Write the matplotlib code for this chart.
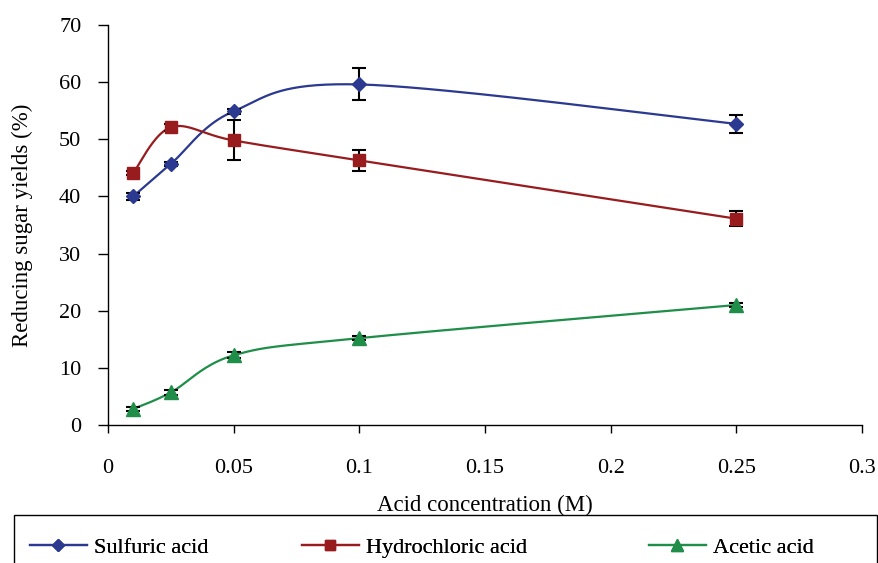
import numpy as np
import matplotlib
matplotlib.use("Agg")
import matplotlib.pyplot as plt
from matplotlib.patches import Rectangle

# Acid concentration (M)
conc = [0.01, 0.025, 0.05, 0.1, 0.25]

# Reducing sugar yields (%) and error bars
sulfuric = [40.0, 45.7, 54.9, 59.6, 52.7]
sulfuric_err = [0.6, 0.4, 0.4, 2.8, 1.6]
hydrochloric = [44.1, 52.1, 49.8, 46.3, 36.1]
hydrochloric_err = [0.3, 0.6, 3.5, 1.8, 1.3]
acetic = [2.8, 5.7, 12.2, 15.2, 21.0]
acetic_err = [0.4, 0.4, 0.5, 0.4, 0.4]

series_names = ["Sulfuric acid", "Hydrochloric acid", "Acetic acid"]
colours = ["#2B3990", "#981B1E", "#1E8E49"]
markers = ["D", "s", "^"]
msizes = [7, 9, 9.5]
# left edge of each legend entry, in figure pixels
legend_x = [30, 302, 649]


def smooth(x, y, n=40):
    '''Excel-like smoothed line: cubic Bezier through points with Catmull-Rom control points.'''
    x = np.asarray(x, float)
    y = np.asarray(y, float)
    pts = np.column_stack([x, y])
    out = [pts[0]]
    t = np.linspace(0, 1, n)[1:]
    for i in range(len(pts) - 1):
        p0 = pts[i - 1] if i > 0 else pts[i]
        p1 = pts[i]
        p2 = pts[i + 1]
        p3 = pts[i + 2] if i + 2 < len(pts) else pts[i + 1]
        c1 = p1 + (p2 - p0) / 6.0
        c2 = p2 - (p3 - p1) / 6.0
        seg = ((1 - t) ** 3)[:, None] * p1 + (3 * (1 - t) ** 2 * t)[:, None] * c1 \
            + (3 * (1 - t) * t ** 2)[:, None] * c2 + (t ** 3)[:, None] * p2
        out.extend(seg)
    out = np.array(out)
    return out[:, 0], out[:, 1]


plt.rcParams['font.family'] = ['Liberation Serif', 'DejaVu Serif']

fig = plt.figure(figsize=(8.79, 5.63), dpi=100)
ax = fig.add_axes([108 / 879, 1 - 425 / 563, 754 / 879, 400 / 563])

data = [(sulfuric, sulfuric_err), (hydrochloric, hydrochloric_err), (acetic, acetic_err)]
handles = []
for (vals, errs), name, col, mk, ms in zip(data, series_names, colours, markers, msizes):
    sx, sy = smooth(conc, vals)
    ax.plot(sx, sy, color=col, lw=1.6, zorder=2)
    ax.errorbar(conc, vals, yerr=errs, fmt="none", ecolor="black",
                elinewidth=1.5, capsize=5, capthick=1.5, zorder=3)
    ax.plot(conc, vals, linestyle="none", marker=mk, markersize=ms,
            color=col, markeredgecolor=col, zorder=4)
    h, = ax.plot([], [], color=col, lw=1.6, marker=mk, markersize=ms * 0.85,
                 markeredgecolor=col)
    handles.append(h)

ax.set_xlim(0, 0.3)
ax.set_ylim(0, 70)
ax.set_xticks([0, 0.05, 0.1, 0.15, 0.2, 0.25, 0.3])
ax.set_xticklabels(["0", "0.05", "0.1", "0.15", "0.2", "0.25", "0.3"])
ax.set_yticks(range(0, 71, 10))
ax.spines["top"].set_visible(False)
ax.spines["right"].set_visible(False)
ax.spines["left"].set_linewidth(1.0)
ax.spines["bottom"].set_linewidth(1.0)
ax.tick_params(axis="both", direction="out", width=1.0,
               labelsize=16, colors="black")
ax.tick_params(axis="x", length=5.8, pad=19)
ax.tick_params(axis="y", length=7.2, pad=12)
ax.set_xlabel("Acid concentration (M)", fontsize=16.5, labelpad=12)
ax.set_ylabel("Reducing sugar yields (%)", fontsize=16.5, labelpad=19)

# Legend box (bottom edge runs off the figure like the original)
fig.patches.append(Rectangle((14 / 879, -0.05), 863 / 879, 0.05 + (563 - 515) / 563,
                             transform=fig.transFigure, fill=False,
                             edgecolor="black", lw=1.0))
for h, name, lx in zip(handles, series_names, legend_x):
    leg = fig.legend([h], [name], loc="center left",
                     bbox_to_anchor=(lx / 879, 1 - 548 / 563), frameon=False,
                     fontsize=16, handlelength=2.55, handletextpad=0.35,
                     borderpad=0, borderaxespad=0)
    fig.add_artist(leg)

fig.savefig("out.png", dpi=100)
